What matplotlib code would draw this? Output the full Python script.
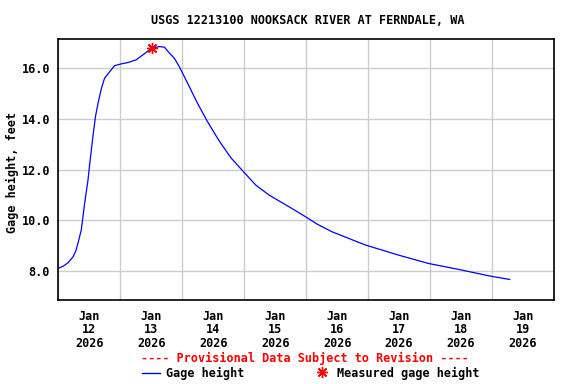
import pandas as pd
import matplotlib
matplotlib.use('Agg')
import matplotlib.pyplot as plt
import matplotlib.dates as mdates
from matplotlib.lines import Line2D

# Gage height readings (hours after 2026-01-12 00:00, feet)
hours = [0, 2.0, 3.8, 5.7, 6.8, 7.6, 8.9, 10.2, 11.5, 12.2, 13.4, 14.4, 15.4, 16.7, 17.9, 19.9,
         21.8, 24.4, 26.9, 30.2, 32.7, 35.3, 37.5, 39.2, 41.1, 43.0, 44.9, 46.8, 48.8, 50.7,
         53.9, 57.8, 61.0, 63.2, 67.0, 71.0, 76.5, 81.6, 89.3, 95.8, 100.3, 106.0, 118.9,
         131.8, 143.4, 154.9, 167.4, 174.8]
height = [8.11, 8.20, 8.33, 8.56, 8.80, 9.09, 9.62, 10.67, 11.59, 12.25, 13.30, 14.09, 14.62,
          15.20, 15.60, 15.86, 16.10, 16.17, 16.22, 16.33, 16.52, 16.72, 16.82, 16.85, 16.83,
          16.60, 16.40, 16.07, 15.67, 15.28, 14.62, 13.89, 13.35, 13.00, 12.45, 12.00, 11.39,
          11.00, 10.54, 10.14, 9.85, 9.55, 9.03, 8.63, 8.30, 8.07, 7.80, 7.67]

# Field measurement
meas_hours = [36.3]
meas_height = [16.79]

start = pd.Timestamp('2026-01-12 00:00')
t = start + pd.to_timedelta(hours, unit='h')
tm = start + pd.to_timedelta(meas_hours, unit='h')

font = 'DejaVu Sans Mono'
fs = 8.5

fig = plt.figure(figsize=(5.76, 3.84), dpi=100)
ax = fig.add_axes([0.1012, 0.21875, 0.8606, 0.679])

ax.plot(t, height, color='#0000ff', lw=0.9)
ax.plot(tm, meas_height, ls='none', marker=(8, 2, 0), ms=8, mew=1, color='#ff0000')

ax.set_xlim(start, start + pd.Timedelta(days=8))
ax.set_ylim(6.86, 17.14)

# grid at midnight, labels at noon
ax.xaxis.set_minor_locator(mdates.DayLocator())
ax.xaxis.set_major_locator(mdates.HourLocator(byhour=[12]))
ax.xaxis.set_major_formatter(mdates.DateFormatter('%b\n%d\n%Y'))
ax.set_yticks([8, 10, 12, 14, 16])
ax.set_yticklabels(['8.0', '10.0', '12.0', '14.0', '16.0'])
ax.grid(which='minor', axis='x', color='#cccccc', lw=1)
ax.grid(which='major', axis='y', color='#cccccc', lw=1)
ax.set_axisbelow(True)
ax.tick_params(which='both', length=0)
ax.tick_params(axis='x', pad=7)
ax.tick_params(axis='y', pad=6)
for lab in ax.get_xticklabels() + ax.get_yticklabels():
    lab.set_fontfamily(font)
    lab.set_fontweight('bold')
    lab.set_fontsize(fs)
for lab in ax.get_xticklabels():
    lab.set_linespacing(1.05)
for s in ax.spines.values():
    s.set_linewidth(1.2)

fig.text(308 / 576, 1 - 20 / 384, 'USGS 12213100 NOOKSACK RIVER AT FERNDALE, WA',
         ha='center', va='center', family=font, weight='bold', fontsize=fs)
fig.text(12 / 576, 1 - 172 / 384, 'Gage height, feet', rotation=90,
         ha='center', va='center', family=font, weight='bold', fontsize=fs)
fig.text(305 / 576, 1 - 358 / 384, '---- Provisional Data Subject to Revision ----',
         ha='center', va='center', family=font, weight='bold', fontsize=fs, color='#ff0000')

fig.add_artist(Line2D([142 / 576, 160 / 576], [1 - 372.5 / 384] * 2, color='#0000ff', lw=1))
fig.text(166 / 576, 1 - 373 / 384, 'Gage height', ha='left', va='center',
         family=font, weight='bold', fontsize=fs)
fig.add_artist(Line2D([322 / 576], [1 - 372 / 384], ls='none', marker=(8, 2, 0), ms=8,
                      mew=1, color='#ff0000'))
fig.text(337 / 576, 1 - 373 / 384, 'Measured gage height', ha='left', va='center',
         family=font, weight='bold', fontsize=fs)

fig.savefig('out.png', dpi=100)
